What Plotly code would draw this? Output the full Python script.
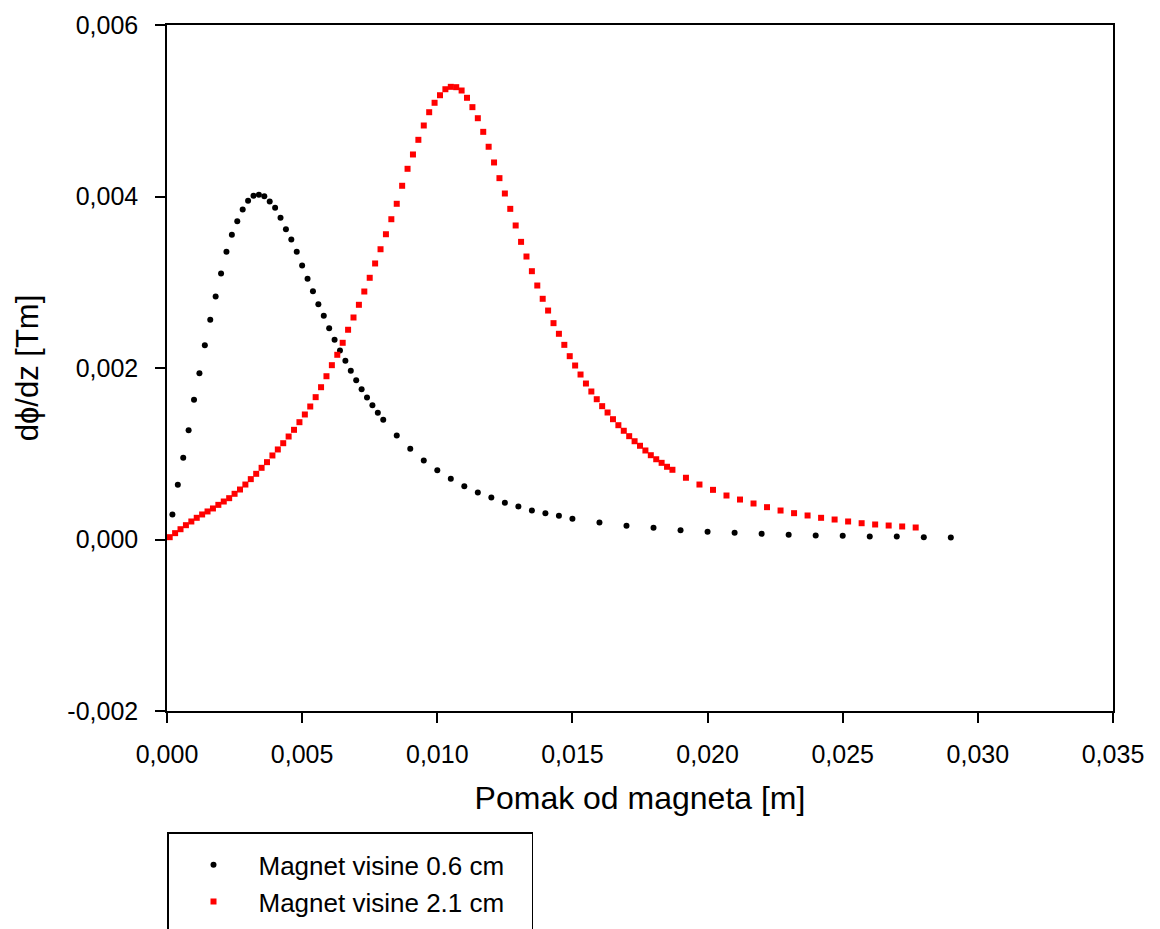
import plotly.graph_objects as go

# ---- data ----
black_x = [
    0.0002, 0.0004, 0.0006, 0.0008, 0.0010, 0.0012, 0.0014, 0.0016, 0.0018, 0.0020,
    0.0022, 0.0024, 0.0026, 0.0028, 0.0030, 0.0032, 0.0034, 0.0036, 0.0038, 0.0040,
    0.0042, 0.0044, 0.0046, 0.0048, 0.0050, 0.0052, 0.0054, 0.0056, 0.0058, 0.0060,
    0.0062, 0.0064, 0.0066, 0.0068, 0.0070, 0.0072, 0.0074, 0.0076, 0.0078, 0.0080,
    0.0085, 0.0090, 0.0095, 0.0100, 0.0105, 0.0110, 0.0115, 0.0120, 0.0125, 0.0130,
    0.0135, 0.0140, 0.0145, 0.0150,
    0.016, 0.017, 0.018, 0.019, 0.020, 0.021, 0.022, 0.023, 0.024, 0.025,
    0.026, 0.027, 0.028, 0.029,
]
black_y = [
    0.000292, 0.000638, 0.000953, 0.001275, 0.001630, 0.001940, 0.002266, 0.002562, 0.002834, 0.003102,
    0.003355, 0.003553, 0.003712, 0.003848, 0.003950, 0.004008, 0.004020, 0.004004, 0.003942, 0.003868,
    0.003752, 0.003619, 0.003499, 0.003355, 0.003195, 0.003040, 0.002896, 0.002744, 0.002609, 0.002464,
    0.002329, 0.002204, 0.002084, 0.001967, 0.001858, 0.001753, 0.001656, 0.001566, 0.001477, 0.001396,
    0.001213, 0.001058, 0.000921, 0.000808, 0.000708, 0.000622, 0.000548, 0.000490, 0.000428, 0.000385,
    0.000338, 0.000307, 0.000276, 0.000241,
    0.000198, 0.000160, 0.000136, 0.000109, 0.000090, 0.000078, 0.000066, 0.000055, 0.000047, 0.000043,
    0.000035, 0.000035, 0.000027, 0.000023,
]

red_x = [
    0.0001, 0.0003, 0.0005, 0.0007, 0.0009, 0.0011, 0.0013, 0.0015, 0.0017, 0.0019,
    0.0021, 0.0023, 0.0025, 0.0027, 0.0029, 0.0031, 0.0033, 0.0035, 0.0037, 0.0039,
    0.0041, 0.0043, 0.0045, 0.0047, 0.0049, 0.0051, 0.0053, 0.0055, 0.0057, 0.0059,
    0.0061, 0.0063, 0.0065, 0.0067, 0.0069, 0.0071, 0.0073, 0.0075, 0.0077, 0.0079,
    0.0081, 0.0083, 0.0085, 0.0087, 0.0089, 0.0091, 0.0093, 0.0095, 0.0097, 0.0099,
    0.0101, 0.0103, 0.0105, 0.0107, 0.0109, 0.0111, 0.0113, 0.0115, 0.0117, 0.0119,
    0.0121, 0.0123, 0.0125, 0.0127, 0.0129, 0.0131, 0.0133, 0.0135, 0.0137, 0.0139,
    0.0141, 0.0143, 0.0145, 0.0147, 0.0149, 0.0151, 0.0153, 0.0155, 0.0157, 0.0159,
    0.0161, 0.0163, 0.0165, 0.0167, 0.0169, 0.0171, 0.0173, 0.0175, 0.0177, 0.0179,
    0.0181, 0.0183, 0.0185, 0.0187,
    0.0192, 0.0197, 0.0202, 0.0207, 0.0212, 0.0217, 0.0222, 0.0227, 0.0232, 0.0237,
    0.0242, 0.0247, 0.0252, 0.0257, 0.0262, 0.0267, 0.0272, 0.0277,
]
red_y = [
    0.000027, 0.000074, 0.000120, 0.000167, 0.000210, 0.000253, 0.000292, 0.000327, 0.000362, 0.000404,
    0.000443, 0.000482, 0.000533, 0.000583, 0.000641, 0.000704, 0.000766, 0.000836, 0.000902, 0.000980,
    0.001050, 0.001123, 0.001201, 0.001279, 0.001368, 0.001458, 0.001551, 0.001660, 0.001776, 0.001904,
    0.002033, 0.002154, 0.002294, 0.002446, 0.002589, 0.002737, 0.002892, 0.003052, 0.003219, 0.003385,
    0.003560, 0.003735, 0.003915, 0.004125, 0.004323, 0.004490, 0.004661, 0.004828, 0.004983, 0.005093,
    0.005181, 0.005251, 0.005279, 0.005275, 0.005236, 0.005151, 0.005042, 0.004913, 0.004754, 0.004580,
    0.004397, 0.004214, 0.004035, 0.003856, 0.003662, 0.003471, 0.003300, 0.003129, 0.002962, 0.002807,
    0.002670, 0.002523, 0.002399, 0.002270, 0.002138, 0.002029, 0.001924, 0.001819, 0.001726, 0.001636,
    0.001555, 0.001481, 0.001403, 0.001333, 0.001268, 0.001205, 0.001146, 0.001093, 0.001038, 0.000983,
    0.000936, 0.000894, 0.000848, 0.000813,
    0.000720, 0.000641, 0.000579, 0.000513, 0.000466, 0.000420, 0.000377, 0.000338, 0.000307, 0.000280,
    0.000253, 0.000233, 0.000210, 0.000190, 0.000175, 0.000163, 0.000152, 0.000140,
]

series_names = ["Magnet visine 0.6 cm", "Magnet visine 2.1 cm"]

x_tickvals = [0.000, 0.005, 0.010, 0.015, 0.020, 0.025, 0.030, 0.035]
x_ticktext = ["0,000", "0,005", "0,010", "0,015", "0,020", "0,025", "0,030", "0,035"]
y_tickvals = [-0.002, 0.000, 0.002, 0.004, 0.006]
y_ticktext = ["-0,002", "0,000", "0,002", "0,004", "0,006"]

x_title = "Pomak od magneta [m]"
y_title = "dϕ/dz [Tm]"

FONT = "Liberation Sans, Arial, sans-serif"
NBSP = "\u00a0"

fig = go.Figure()
fig.add_trace(go.Scatter(
    x=black_x, y=black_y, mode="markers", name=series_names[0],
    marker=dict(symbol="circle", size=6, color="black", line=dict(width=0)),
))
fig.add_trace(go.Scatter(
    x=red_x, y=red_y, mode="markers", name=series_names[1],
    marker=dict(symbol="square", size=6, color="#ff0000", line=dict(width=0)),
))
# blank legend row (no visible mark) so the legend frame is wide and runs off the bottom edge
fig.add_trace(go.Scatter(
    x=[None], y=[None], mode="markers", name=NBSP * 37,
    marker=dict(color="rgba(0,0,0,0)", size=1), hoverinfo="skip",
))

axis_common = dict(
    showline=True, linecolor="black", linewidth=1.5, mirror=True,
    ticks="outside", ticklen=10, tickwidth=1.5, tickcolor="black",
    showgrid=False, zeroline=False,
    tickfont=dict(family=FONT, size=25, color="black"),
)

fig.update_xaxes(
    range=[0, 0.035], tickmode="array", tickvals=x_tickvals, ticktext=x_ticktext,
    title=dict(text=x_title, font=dict(family=FONT, size=32, color="black"), standoff=20),
    ticklabelstandoff=10,
    **axis_common,
)
fig.update_yaxes(
    range=[-0.002, 0.006], tickmode="array", tickvals=y_tickvals, ticktext=y_ticktext,
    title=dict(text=y_title, font=dict(family=FONT, size=31, color="black"), standoff=20),
    ticklabelstandoff=12,
    **axis_common,
)

fig.update_layout(
    width=1160, height=929,
    margin=dict(l=167, r=47, t=25, b=218, autoexpand=False),
    paper_bgcolor="white", plot_bgcolor="white",
    font=dict(family=FONT, color="black"),
    legend=dict(
        x=0.0, y=-0.1764, xanchor="left", yanchor="top",
        bordercolor="black", borderwidth=1.5, bgcolor="white",
        font=dict(family=FONT, size=26, color="black"),
        title=dict(text=NBSP, font=dict(family=FONT, size=6)),
        itemwidth=80, tracegroupgap=0,
    ),
)

fig.write_html("out.html")
